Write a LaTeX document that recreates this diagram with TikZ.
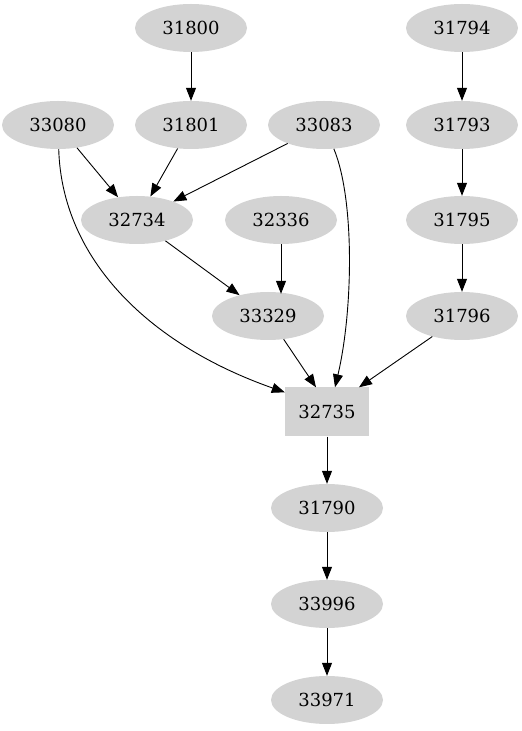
\documentclass[tikz,border=0pt]{standalone}
\usepackage{fontspec}
\setmainfont{DejaVu Serif}
\usetikzlibrary{arrows.meta,shapes.geometric}
\definecolor{nodegray}{RGB}{211,211,211}
\tikzset{
  job/.style={ellipse, fill=nodegray, minimum width=112pt, minimum height=48pt, inner sep=0pt, font=\fontsize{18}{20}\selectfont},
  target/.style={rectangle, fill=nodegray, minimum width=84pt, minimum height=49pt, inner sep=0pt, font=\fontsize{18}{20}\selectfont},
  dep/.style={-{Triangle[length=13pt,width=10pt]}, line width=0.9pt}
}
\begin{document}
\begin{tikzpicture}[x=1pt,y=1pt]
\useasboundingbox (0,0) rectangle (522,731);

\node[job] (n31800) at (191,703) {31800};
\node[job] (n31794) at (462,703) {31794};
\node[job] (n33080) at (58,606) {33080};
\node[job] (n31801) at (191,606) {31801};
\node[job] (n33083) at (324,606) {33083};
\node[job] (n31793) at (462,606) {31793};
\node[job] (n32734) at (137,511) {32734};
\node[job] (n32336) at (281,511) {32336};
\node[job] (n31795) at (462,511) {31795};
\node[job] (n33329) at (268,415) {33329};
\node[job] (n31796) at (462,415) {31796};
\node[target] (n32735) at (327,319) {32735};
\node[job] (n31790) at (327,223) {31790};
\node[job] (n33996) at (327,127) {33996};
\node[job] (n33971) at (327,31) {33971};

\draw[dep] (n31800) -- (n31801);
\draw[dep] (n31794) -- (n31793);
\draw[dep] (n31793) -- (n31795);
\draw[dep] (n31795) -- (n31796);
\draw[dep] (n33080) -- (n32734);
\draw[dep] (n31801) -- (n32734);
\draw[dep] (n33083) -- (n32734);
\draw[dep] (n32734) -- (n33329);
\draw[dep] (n32336.south) -- ([yshift=-2pt]n32336.south |- n33329.north);
\draw[dep] (n33329) -- ([xshift=-11pt]n32735.north);
\draw[dep] (n31796) -- ([xshift=32pt]n32735.north);
\draw[dep] (n33080) .. controls (62,471) and (150,386) .. ([yshift=-5pt]n32735.north west);
\draw[dep] (n33083) .. controls (355,531) and (353,420) .. ([xshift=8pt]n32735.north);
\draw[dep] (n32735) -- (n31790);
\draw[dep] (n31790) -- (n33996);
\draw[dep] (n33996) -- (n33971);
\end{tikzpicture}
\end{document}
